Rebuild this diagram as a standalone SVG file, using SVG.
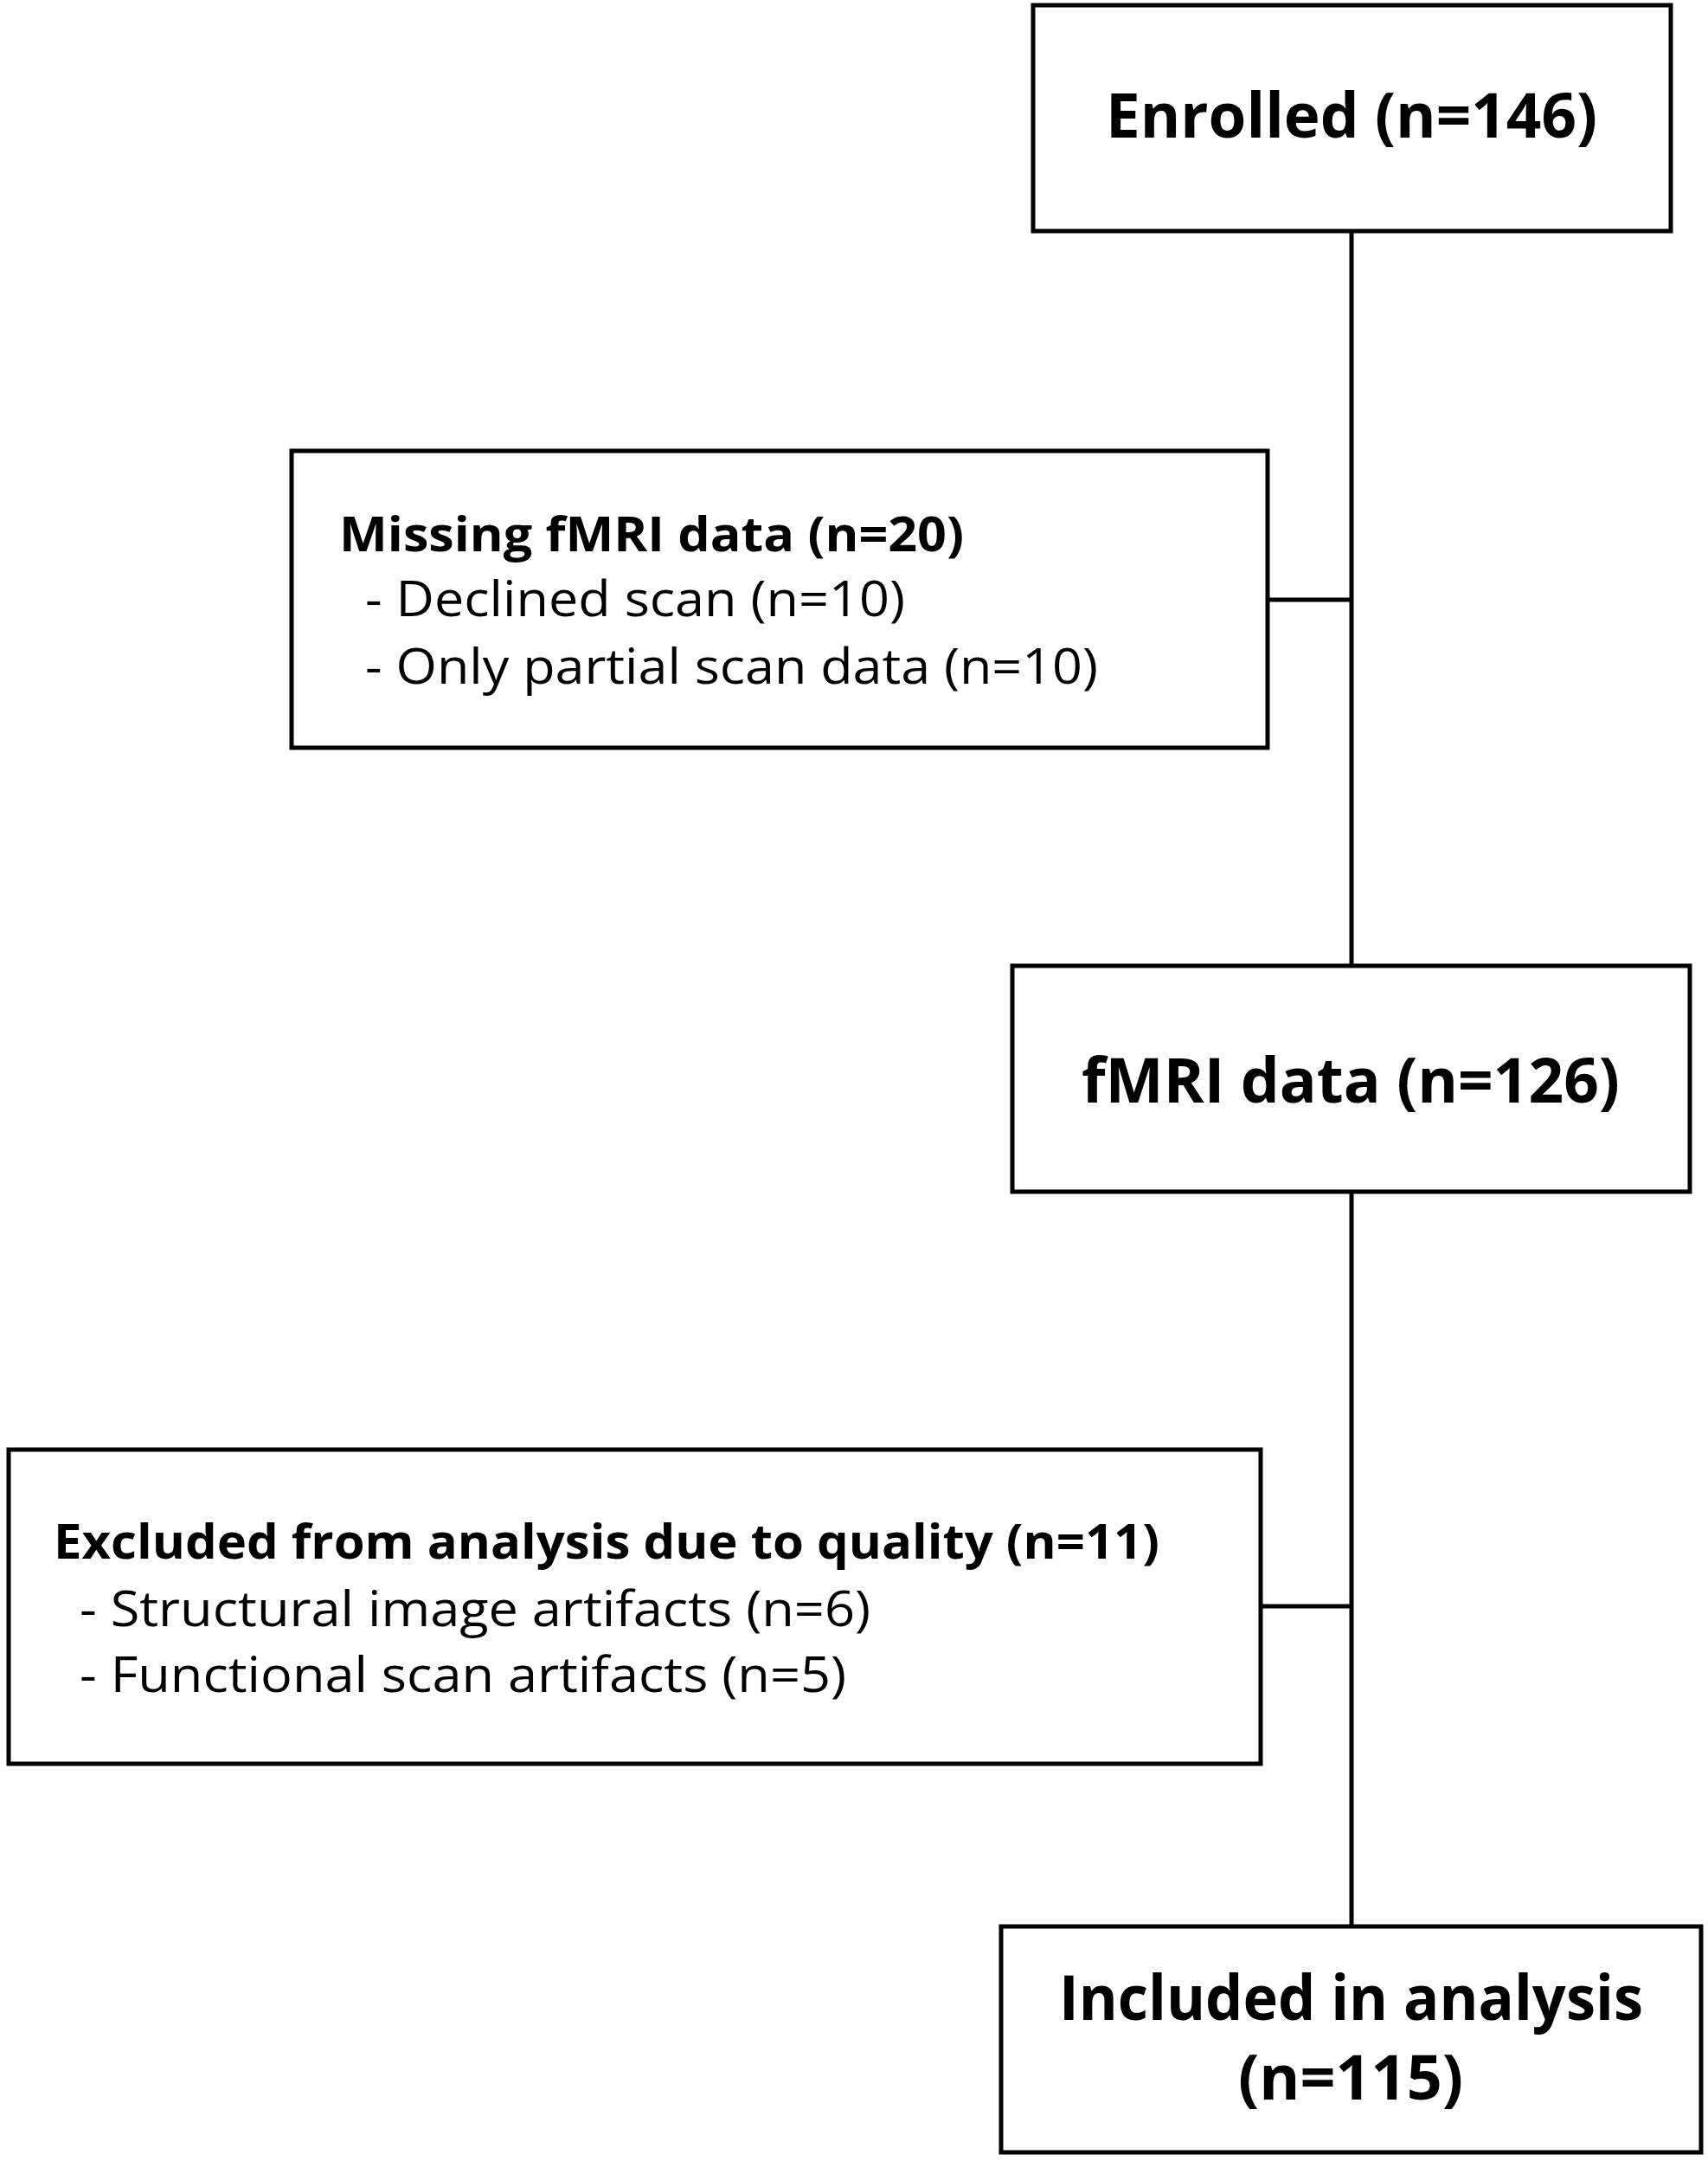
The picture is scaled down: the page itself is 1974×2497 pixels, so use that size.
<svg xmlns="http://www.w3.org/2000/svg" width="1974" height="2497" viewBox="0 0 1974 2497">
<style>
.box{fill:#fff;stroke:#000;stroke-width:5}
.ln{stroke:#000;stroke-width:5;fill:none}
text{font-family:"Open Sans","Liberation Sans",sans-serif;fill:#000}
.big{font-size:72px;font-weight:bold}
.h{font-size:56px;font-weight:bold}
.n{font-size:56px}
</style>
<rect width="1974" height="2497" fill="#fff"/>
<g id="connectors">
<line class="ln" x1="1562" y1="267" x2="1562" y2="1116"/>
<line class="ln" x1="1562" y1="1377" x2="1562" y2="2226"/>
<line class="ln" x1="1465" y1="693" x2="1562" y2="693"/>
<line class="ln" x1="1457" y1="1856" x2="1562" y2="1856"/>
</g>
<g id="enrolled">
<rect class="box" x="1194" y="6" width="737" height="261"/>
<text class="big" x="1278" y="159" textLength="568" lengthAdjust="spacingAndGlyphs">Enrolled (n=146)</text>
</g>
<g id="missing">
<rect class="box" x="337" y="521" width="1128" height="343"/>
<text class="h" x="392" y="637" textLength="722" lengthAdjust="spacingAndGlyphs">Missing fMRI data (n=20)</text>
<text class="n" x="422" y="712" textLength="624" lengthAdjust="spacingAndGlyphs">- Declined scan (n=10)</text>
<text class="n" x="422" y="790" textLength="847" lengthAdjust="spacingAndGlyphs">- Only partial scan data (n=10)</text>
</g>
<g id="fmri">
<rect class="box" x="1170" y="1116" width="783" height="261"/>
<text class="big" x="1250" y="1274" textLength="622" lengthAdjust="spacingAndGlyphs">fMRI data (n=126)</text>
</g>
<g id="excluded">
<rect class="box" x="10" y="1675" width="1447" height="363"/>
<text class="h" x="62" y="1801" textLength="1278" lengthAdjust="spacingAndGlyphs">Excluded from analysis due to quality (n=11)</text>
<text class="n" x="92" y="1879" textLength="914" lengthAdjust="spacingAndGlyphs">- Structural image artifacts (n=6)</text>
<text class="n" x="92" y="1955" textLength="886" lengthAdjust="spacingAndGlyphs">- Functional scan artifacts (n=5)</text>
</g>
<g id="included">
<rect class="box" x="1157" y="2226" width="809" height="261"/>
<text class="big" x="1224" y="2334" textLength="675" lengthAdjust="spacingAndGlyphs">Included in analysis</text>
<text class="big" x="1431" y="2426" textLength="260" lengthAdjust="spacingAndGlyphs">(n=115)</text>
</g>
</svg>
